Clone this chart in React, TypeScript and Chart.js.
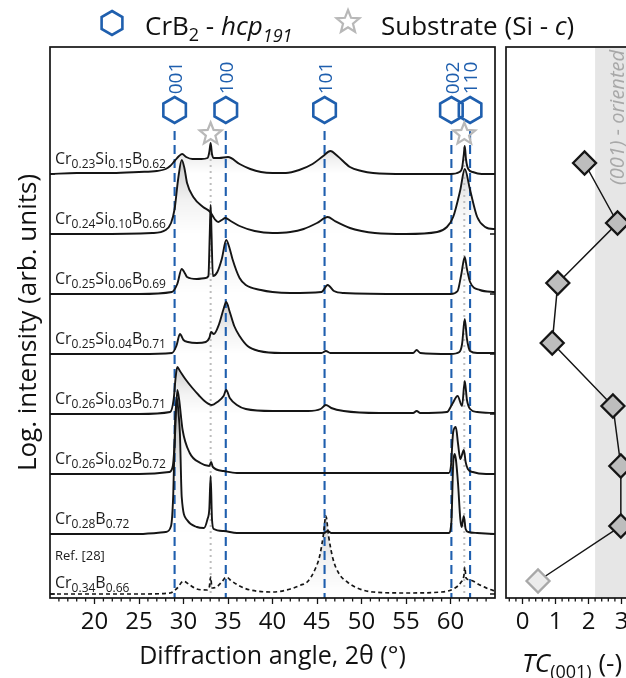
import React, { useEffect, useRef } from 'react';
import { Chart, registerables } from 'chart.js';
Chart.register(...registerables);

const FONT = '"Open Sans", sans-serif';
const BLUE = '#1f5fae';
const INK = '#151515';

// ---------- left panel: XRD patterns ----------
const twoThetaMin = 15;
const twoThetaMax = 65;
const twoThetaTicks = [20, 25, 30, 35, 40, 45, 50, 55, 60];

const crb2Peaks = [29.0, 34.75, 45.85, 60.1, 62.2];
const crb2Hkl = ['001', '100', '101', '002', '110'];
const substratePeaks = [33.05, 61.55];

// vertical offset of each pattern (top to bottom), arb. units
const sampleOffsets = [420, 360, 300, 240, 180, 120, 60, 0];

// sample names as [element, subscript] pairs, top to bottom
const sampleNames: [string, string][][] = [
  [['Cr', '0.23'], ['Si', '0.15'], ['B', '0.62']],
  [['Cr', '0.24'], ['Si', '0.10'], ['B', '0.66']],
  [['Cr', '0.25'], ['Si', '0.06'], ['B', '0.69']],
  [['Cr', '0.25'], ['Si', '0.04'], ['B', '0.71']],
  [['Cr', '0.26'], ['Si', '0.03'], ['B', '0.71']],
  [['Cr', '0.26'], ['Si', '0.02'], ['B', '0.72']],
  [['Cr', '0.28'], ['B', '0.72']],
  [['Cr', '0.34'], ['B', '0.66']],
];
const refNote = 'Ref. [28]';

// [2θ, log intensity above the pattern's own baseline]
const xrdCr23Si15B62: [number, number][] = [
  [15, 0], [18, 1], [22, 1], [25, 2], [27, 3], [28, 5], [28.5, 8], [29, 13], [29.5, 18], [29.85, 20],
  [30.3, 17], [31, 15], [32, 15], [32.7, 16], [32.9, 22], [33.05, 31], [33.2, 20], [33.4, 16], [34, 16],
  [35, 17], [36.3, 10], [37.5, 5], [38.7, 2], [40, 1], [41.5, 1], [43, 4], [44.5, 10], [45.7, 18],
  [46.5, 23], [47.3, 18], [48.7, 7], [50, 3], [51.3, 1], [55, 0], [60, 0], [61, 2], [61.3, 6],
  [61.5, 20], [61.6, 28], [61.75, 14], [62, 5], [62.5, 2], [63.5, 0], [65, 0],
];
const xrdCr24Si10B66: [number, number][] = [
  [15, 0], [20, 0], [26.5, 1], [28, 4], [28.6, 11], [29, 25], [29.4, 55], [29.8, 74], [30.1, 66],
  [30.4, 51], [31.1, 37], [32.2, 27], [33, 22], [33.5, 15], [33.9, 12], [34.3, 14], [34.7, 16],
  [35.3, 13], [36.3, 8], [38, 3], [40, 1], [42, 2], [43.5, 5], [45, 11], [46.2, 17], [47, 13],
  [48.7, 6], [50, 3], [51.5, 1], [55, 0], [58.5, 2], [59.6, 7], [60.3, 17], [61.1, 44], [61.6, 65],
  [62.2, 44], [63, 17], [63.9, 7], [64.8, 5], [65, 5],
];
const xrdCr25Si06B69: [number, number][] = [
  [15, 0], [20, 0], [25, 0], [28.7, 2], [29.3, 10], [29.8, 25], [30.2, 20], [30.4, 17], [31.5, 15],
  [32.5, 16], [32.8, 18], [32.95, 60], [33.05, 89], [33.15, 60], [33.3, 18], [33.8, 22], [34.3, 35],
  [34.8, 54], [35.2, 45], [35.5, 35], [36.3, 16], [37, 9], [38.7, 4], [40, 2], [42, 1], [45.5, 2],
  [46.2, 9], [46.9, 3], [48, 1], [55, 0], [60, 0], [60.8, 3], [61.2, 19], [61.6, 37], [61.85, 25],
  [62.2, 12], [63.3, 4], [65, 2],
];
const xrdCr25Si04B71: [number, number][] = [
  [15, 0], [20, 0], [25, 0], [28.7, 1], [29.2, 8], [29.6, 20], [30, 14], [30.5, 12], [31.5, 11],
  [32.5, 12], [32.9, 16], [33.1, 22], [33.4, 20], [34, 30], [34.5, 45], [34.8, 52], [35.2, 42],
  [35.7, 28], [36.3, 18], [37.2, 8], [38.5, 3], [41, 1], [45.5, 1], [46, 3], [46.5, 1], [55.8, 1],
  [56.2, 4], [56.6, 1], [60, 0], [61, 2], [61.3, 10], [61.6, 35], [61.85, 15], [62.2, 3], [63, 1], [65, 1],
];
const xrdCr26Si03B71: [number, number][] = [
  [15, 0], [20, 0], [25, 0], [28.5, 2], [28.9, 15], [29.1, 35], [29.3, 47], [29.6, 43], [30.2, 35],
  [31, 26], [31.7, 19], [32.5, 12], [33.2, 9], [33.8, 12], [34.5, 18], [34.8, 24], [35.2, 16], [36, 9],
  [37, 5], [40, 3], [44, 3], [45.4, 5], [46, 9], [46.6, 6], [48, 3], [52, 1], [55.8, 1], [56.2, 3],
  [56.6, 1], [59.6, 2], [60.2, 10], [60.8, 18], [61.3, 8], [61.6, 33], [61.85, 14], [62.2, 5],
  [63, 2], [65, 1],
];
const xrdCr26Si02B72: [number, number][] = [
  [15, 0], [20, 0], [25, 0], [28.4, 2], [28.8, 8], [29, 30], [29.3, 84], [29.5, 75], [29.9, 44],
  [30.7, 21], [31.9, 11], [32.9, 8], [33.1, 12], [33.3, 7], [34.5, 3], [36, 1], [45, 1], [46, 1],
  [59.8, 1], [60.05, 8], [60.3, 42], [60.6, 47], [60.85, 30], [61.1, 15], [61.5, 24], [61.7, 12],
  [61.95, 5], [62.5, 2], [64, 0], [65, 0],
];
const xrdCr28B72: [number, number][] = [
  [15, 0], [20, 0], [25, 0], [28, 2], [28.6, 8], [28.85, 40], [29.05, 110], [29.25, 136], [29.45, 120],
  [29.6, 100], [29.8, 37], [30.4, 14], [31.5, 7], [32.3, 6], [32.7, 15], [32.9, 25], [33.05, 58],
  [33.2, 15], [33.4, 5], [34.5, 3], [36, 1], [45.8, 1], [46.2, 3], [46.6, 1], [59.8, 1], [60.1, 12],
  [60.3, 70], [60.45, 80], [60.6, 75], [60.85, 50], [61.1, 15], [61.25, 7], [61.5, 18], [61.7, 5],
  [62, 2], [63, 1], [65, 0],
];
const xrdCr34B66Ref: [number, number][] = [
  [15, 0], [25, 0], [28.5, 1], [29.3, 6], [30, 13], [30.7, 9], [31.5, 5], [32.6, 4], [32.9, 7],
  [33.05, 17], [33.2, 6], [33.7, 7], [34.3, 12], [34.8, 17], [35.4, 13], [36.3, 8], [37.5, 4], [40, 2],
  [42, 5], [43.2, 9], [43.9, 12], [44.8, 25], [45.3, 38], [45.7, 58], [46, 78], [46.3, 58], [46.8, 35],
  [47.5, 20], [48.4, 12], [49.5, 6], [51.3, 2], [55, 1], [59, 2], [60.5, 6], [61.2, 12], [61.5, 18],
  [61.6, 27], [61.75, 16], [62.2, 14], [63.3, 9], [64.3, 5], [65, 3],
];
const patterns = [
  xrdCr23Si15B62, xrdCr24Si10B66, xrdCr25Si06B69, xrdCr25Si04B71,
  xrdCr26Si03B71, xrdCr26Si02B72, xrdCr28B72, xrdCr34B66Ref,
];

// ---------- right panel: texture coefficient ----------
const tcValues = [1.88, 2.88, 1.07, 0.9, 2.74, 2.98, 2.98, 0.47];
const tcRows = [431, 371, 311, 251, 188, 128, 68, 13];
const tcTicks = [0, 1, 2, 3];
const orientedFrom = 2.2;
const orientedText = '(001) - oriented';

const yMin = -4;
const yMax = 547;

type Seg = { t: string; size: number; italic?: boolean; dy?: number };

function fontOf(s: Seg) {
  return `${s.italic ? 'italic ' : ''}${s.size}px ${FONT}`;
}
function richWidth(ctx: CanvasRenderingContext2D, segs: Seg[]) {
  let w = 0;
  for (const s of segs) { ctx.font = fontOf(s); w += ctx.measureText(s.t).width; }
  return w;
}
function drawRich(ctx: CanvasRenderingContext2D, x: number, y: number, segs: Seg[], color: string) {
  ctx.save();
  ctx.fillStyle = color;
  ctx.textAlign = 'left';
  ctx.textBaseline = 'alphabetic';
  let cx = x;
  for (const s of segs) {
    ctx.font = fontOf(s);
    ctx.fillText(s.t, cx, y + (s.dy || 0));
    cx += ctx.measureText(s.t).width;
  }
  ctx.restore();
}
function hexPath(ctx: CanvasRenderingContext2D, cx: number, cy: number, r: number) {
  ctx.beginPath();
  for (let k = 0; k < 6; k++) {
    const a = -Math.PI / 2 + (k * Math.PI) / 3;
    const px = cx + r * Math.cos(a);
    const py = cy + r * Math.sin(a);
    if (k === 0) ctx.moveTo(px, py); else ctx.lineTo(px, py);
  }
  ctx.closePath();
}
function starPath(ctx: CanvasRenderingContext2D, cx: number, cy: number, R: number, r: number) {
  ctx.beginPath();
  for (let k = 0; k < 10; k++) {
    const a = -Math.PI / 2 + (k * Math.PI) / 5;
    const rr = k % 2 === 0 ? R : r;
    const px = cx + rr * Math.cos(a);
    const py = cy + rr * Math.sin(a);
    if (k === 0) ctx.moveTo(px, py); else ctx.lineTo(px, py);
  }
  ctx.closePath();
}

const traceMax = patterns.map((p) => Math.max(...p.map((q) => q[1])));

const leftPlugin = {
  id: 'xrdDecor',
  beforeDatasetsDraw(chart: any) {
    const { ctx, chartArea: a, scales } = chart;
    const xs = scales.x;
    ctx.save();
    ctx.strokeStyle = '#bdbdbd';
    ctx.lineWidth = 2;
    ctx.setLineDash([2, 4]);
    for (const p of substratePeaks) {
      const x = xs.getPixelForValue(p);
      ctx.beginPath(); ctx.moveTo(x, a.top + 100); ctx.lineTo(x, a.bottom); ctx.stroke();
    }
    ctx.strokeStyle = BLUE;
    ctx.lineWidth = 2.1;
    ctx.setLineDash([9, 5]);
    for (const p of crb2Peaks) {
      const x = xs.getPixelForValue(p);
      ctx.beginPath(); ctx.moveTo(x, a.top + 84); ctx.lineTo(x, a.bottom); ctx.stroke();
    }
    ctx.restore();
  },
  afterDatasetsDraw(chart: any) {
    const { ctx, chartArea: a, scales } = chart;
    const xs = scales.x;
    const ys = scales.y;
    ctx.save();
    ctx.strokeStyle = BLUE;
    ctx.lineWidth = 2.6;
    crb2Peaks.forEach((p, i) => {
      const x = xs.getPixelForValue(p);
      hexPath(ctx, x, a.top + 63, 13);
      ctx.stroke();
      ctx.save();
      ctx.translate(x + 2, a.top + 31);
      ctx.rotate(-Math.PI / 2);
      ctx.fillStyle = BLUE;
      ctx.font = `19px ${FONT}`;
      ctx.textAlign = 'center';
      ctx.textBaseline = 'middle';
      ctx.fillText(crb2Hkl[i], 0, 0);
      ctx.restore();
    });
    ctx.strokeStyle = '#b8b8b8';
    ctx.lineWidth = 2.2;
    for (const p of substratePeaks) {
      const x = xs.getPixelForValue(p);
      starPath(ctx, x, a.top + 87, 11.5, 5);
      ctx.stroke();
    }
    sampleNames.forEach((parts, i) => {
      const base = ys.getPixelForValue(sampleOffsets[i]);
      const isRef = i === sampleNames.length - 1;
      const segs: Seg[] = [];
      for (const [el, sub] of parts) {
        segs.push({ t: el, size: 16 });
        segs.push({ t: sub, size: 12, dy: 4 });
      }
      drawRich(ctx, a.left + 5, base - (isRef ? 6 : 10), segs, '#1a1a1a');
      if (isRef) drawRich(ctx, a.left + 5, base - 34, [{ t: refNote, size: 13 }], '#1a1a1a');
    });
    ctx.strokeStyle = INK;
    ctx.lineWidth = 1.7;
    ctx.strokeRect(a.left, a.top, a.right - a.left, a.bottom - a.top);
    ctx.lineWidth = 1.3;
    for (const o of sampleOffsets) {
      const y = ys.getPixelForValue(o);
      ctx.beginPath();
      ctx.moveTo(a.left, y); ctx.lineTo(a.left + 5, y);
      ctx.moveTo(a.right, y); ctx.lineTo(a.right - 5, y);
      ctx.stroke();
    }
    for (let v = twoThetaMin + 1; v < twoThetaMax; v++) {
      if (v % 5 === 0) continue;
      const x = xs.getPixelForValue(v);
      ctx.beginPath(); ctx.moveTo(x, a.bottom); ctx.lineTo(x, a.bottom + 3.5); ctx.stroke();
    }
    ctx.restore();
  },
  afterDraw(chart: any) {
    const { ctx } = chart;
    ctx.save();
    ctx.strokeStyle = BLUE;
    ctx.lineWidth = 2.6;
    hexPath(ctx, 112, 23, 12);
    ctx.stroke();
    drawRich(ctx, 145, 35, [
      { t: 'CrB', size: 26 }, { t: '2', size: 18, dy: 6 }, { t: ' - ', size: 26 },
      { t: 'hcp', size: 26, italic: true }, { t: '191', size: 18, italic: true, dy: 7 },
    ], '#111');
    ctx.strokeStyle = '#b8b8b8';
    ctx.lineWidth = 2.2;
    starPath(ctx, 348, 22, 12, 5.2);
    ctx.stroke();
    drawRich(ctx, 381, 35, [
      { t: 'Substrate (Si - ', size: 26 }, { t: 'c', size: 26, italic: true }, { t: ')', size: 26 },
    ], '#111');
    ctx.restore();
  },
};

const rightPlugin = {
  id: 'tcDecor',
  beforeDatasetsDraw(chart: any) {
    const { ctx, chartArea: a, scales } = chart;
    const x0 = scales.x.getPixelForValue(orientedFrom);
    ctx.save();
    ctx.fillStyle = '#e6e6e6';
    ctx.fillRect(x0, a.top, a.right - x0, a.bottom - a.top);
    ctx.translate(x0 + 23, a.top + 3);
    ctx.rotate(-Math.PI / 2);
    ctx.fillStyle = '#a8a8a8';
    ctx.font = `italic 20px ${FONT}`;
    ctx.textAlign = 'right';
    ctx.textBaseline = 'middle';
    ctx.fillText(orientedText, 0, 0);
    ctx.restore();
  },
  afterDraw(chart: any) {
    const { ctx, chartArea: a, scales } = chart;
    const xs = scales.x;
    ctx.save();
    ctx.strokeStyle = INK;
    ctx.lineWidth = 1.7;
    ctx.strokeRect(a.left, a.top, a.right - a.left, a.bottom - a.top);
    ctx.lineWidth = 1.3;
    for (let k = -2; k <= 17; k++) {
      if (k % 5 === 0) continue;
      const x = xs.getPixelForValue(k / 5);
      if (x <= a.left + 1 || x >= a.right - 1) continue;
      ctx.beginPath(); ctx.moveTo(x, a.bottom); ctx.lineTo(x, a.bottom + 3.5); ctx.stroke();
    }
    const segs: Seg[] = [
      { t: 'TC', size: 26, italic: true }, { t: '(001)', size: 18, dy: 6 }, { t: ' (-)', size: 26 },
    ];
    const w = richWidth(ctx, segs);
    drawRich(ctx, (a.left + a.right) / 2 - w / 2, 672, segs, '#111');
    ctx.restore();
  },
};

function makeLeft(canvas: HTMLCanvasElement) {
  const datasets = patterns.map((pts, i) => {
    const isRef = i === patterns.length - 1;
    return {
      data: pts.map(([x, h]) => ({ x, y: h + sampleOffsets[i] })),
      borderColor: INK,
      borderWidth: isRef ? 1.7 : 1.9,
      borderDash: isRef ? [4, 3] : [],
      pointRadius: 0,
      cubicInterpolationMode: 'monotone',
      fill: { value: sampleOffsets[i] },
      backgroundColor: (c: any) => {
        const chart = c.chart;
        const ys = chart.scales && chart.scales.y;
        if (!chart.chartArea || !ys) return 'rgba(0,0,0,0)';
        const top = ys.getPixelForValue(sampleOffsets[i] + traceMax[i]);
        const base = ys.getPixelForValue(sampleOffsets[i]);
        if (!isFinite(top) || !isFinite(base) || base - top < 1) return 'rgba(0,0,0,0)';
        const g = chart.ctx.createLinearGradient(0, top, 0, base);
        g.addColorStop(0, 'rgba(0,0,0,0.2)');
        g.addColorStop(0.55, 'rgba(0,0,0,0.05)');
        g.addColorStop(1, 'rgba(0,0,0,0)');
        return g;
      },
    };
  });
  return new Chart(canvas, {
    type: 'line',
    data: { datasets } as any,
    plugins: [leftPlugin],
    options: {
      responsive: false,
      animation: false,
      events: [],
      layout: { padding: { left: 0, right: 131, top: 47, bottom: 0 } },
      plugins: {
        legend: { display: false },
        tooltip: { enabled: false },
        filler: { drawTime: 'beforeDatasetsDraw', propagate: false },
      } as any,
      scales: {
        x: {
          type: 'linear',
          min: twoThetaMin,
          max: twoThetaMax,
          afterBuildTicks: (s: any) => { s.ticks = twoThetaTicks.map((v) => ({ value: v })); },
          afterFit: (s: any) => { s.height = 80; },
          ticks: { font: { size: 24, family: FONT }, color: '#111', padding: 4, maxRotation: 0, autoSkip: false },
          grid: { display: true, drawOnChartArea: false, drawTicks: true, tickLength: 6, tickColor: INK, tickWidth: 1.3 },
          border: { display: false },
          title: {
            display: true, text: 'Diffraction angle, 2θ (°)', color: '#111',
            font: { size: 25, family: FONT }, padding: { top: 0, bottom: 6 },
          },
        },
        y: {
          type: 'linear',
          min: yMin,
          max: yMax,
          afterFit: (s: any) => { s.width = 50; },
          ticks: { display: false },
          grid: { display: false },
          border: { display: false },
          title: {
            display: true, text: 'Log. intensity (arb. units)', color: '#111',
            font: { size: 26, family: FONT }, padding: { top: 13, bottom: 0 },
          },
        },
      } as any,
    },
  } as any);
}

function makeRight(canvas: HTMLCanvasElement) {
  return new Chart(canvas, {
    type: 'scatter',
    data: {
      datasets: [{
        data: tcValues.map((v, i) => ({ x: v, y: tcRows[i] })),
        showLine: true,
        borderColor: INK,
        borderWidth: 1.5,
        pointStyle: 'rectRot',
        pointRadius: 11.5,
        pointBorderWidth: 2.3,
        pointBackgroundColor: tcValues.map((_, i) => (i === tcValues.length - 1 ? '#ececec' : '#bdbdbd')),
        pointBorderColor: tcValues.map((_, i) => (i === tcValues.length - 1 ? '#a8a8a8' : INK)),
        clip: false,
      }],
    } as any,
    plugins: [rightPlugin],
    options: {
      responsive: false,
      animation: false,
      events: [],
      layout: { padding: { left: 50, right: 18, top: 47, bottom: 0 } },
      plugins: { legend: { display: false }, tooltip: { enabled: false } },
      scales: {
        x: {
          type: 'linear',
          min: -0.5,
          max: 3.5,
          afterBuildTicks: (s: any) => { s.ticks = tcTicks.map((v) => ({ value: v })); },
          afterFit: (s: any) => { s.height = 80; },
          ticks: { font: { size: 24, family: FONT }, color: '#111', padding: 4, maxRotation: 0, autoSkip: false },
          grid: { display: true, drawOnChartArea: false, drawTicks: true, tickLength: 6, tickColor: INK, tickWidth: 1.3 },
          border: { display: false },
          title: { display: false },
        },
        y: { type: 'linear', min: yMin, max: yMax, display: false },
      } as any,
    },
  } as any);
}

export default function App() {
  const leftRef = useRef<HTMLCanvasElement>(null);
  const rightRef = useRef<HTMLCanvasElement>(null);
  useEffect(() => {
    const l = makeLeft(leftRef.current!);
    const r = makeRight(rightRef.current!);
    return () => { l.destroy(); r.destroy(); };
  }, []);
  return (
    <div style={{ position: 'fixed', left: 0, top: 0, width: 626, height: 678, overflow: 'hidden', background: '#fff' }}>
      <canvas ref={leftRef} width={626} height={678} style={{ position: 'absolute', left: 0, top: 0 }} />
      <canvas ref={rightRef} width={200} height={678} style={{ position: 'absolute', left: 456, top: 0 }} />
    </div>
  );
}
